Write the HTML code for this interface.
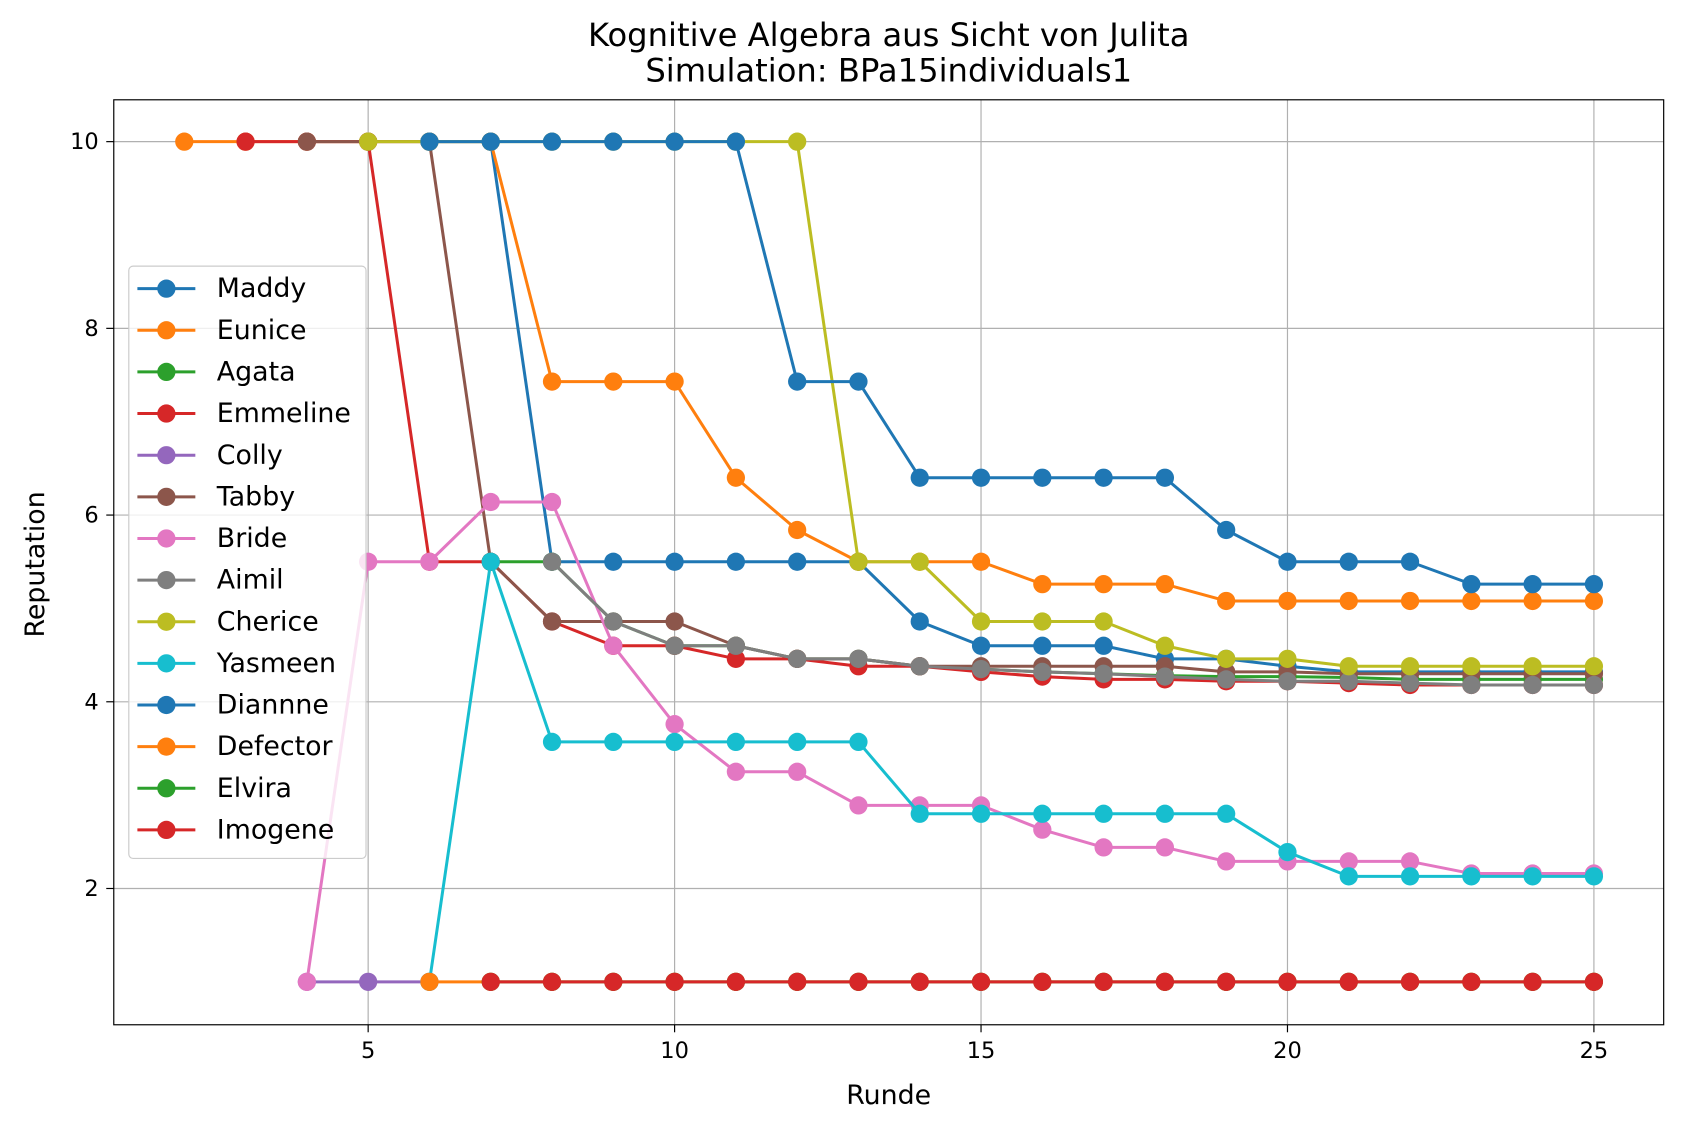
<!DOCTYPE html>
<html><head><meta charset="utf-8"><style>
body{margin:0;background:#fff}
svg text{font-family:"DejaVu Sans","Liberation Sans",sans-serif;fill:#000}
</style></head><body>
<svg id="chart" width="1683" height="1131" viewBox="0 0 1568 1054" preserveAspectRatio="none" xmlns="http://www.w3.org/2000/svg" style="display:block">
<rect width="1568" height="1054" fill="#fff"/>
<text x="828" y="43" font-size="30" text-anchor="middle">Kognitive Algebra aus Sicht von Julita</text>
<text x="828" y="76" font-size="30" text-anchor="middle">Simulation: BPa15individuals1</text>
<g id="grid"></g><g id="series"></g>
<rect x="106" y="93" width="1444" height="862" fill="none" stroke="#000" stroke-width="1.1"/>
<g id="ticks"></g>
<text x="828" y="1029" font-size="25" text-anchor="middle">Runde</text>
<text x="41" y="526" font-size="25" text-anchor="middle" transform="rotate(-90 41 526)">Reputation</text>
<g id="legend"></g>
</svg>
<script>
const names=["Maddy","Eunice","Agata","Emmeline","Colly","Tabby","Bride","Aimil","Cherice","Yasmeen","Diannne","Defector","Elvira","Imogene"];
const colors=["#1f77b4","#ff7f0e","#2ca02c","#d62728","#9467bd","#8c564b","#e377c2","#7f7f7f","#bcbd22","#17becf","#1f77b4","#ff7f0e","#2ca02c","#d62728"];
const xTicks=[5,10,15,20,25];
const yTicks=[2,4,6,8,10];
const maddyX=[6,7,8,9,10,11,12,13,14,15,16,17,18,19,20,21,22,23,24,25];
const maddyY=[10,10,5.5,5.5,5.5,5.5,5.5,5.5,4.86,4.6,4.6,4.6,4.46,4.46,4.38,4.32,4.32,4.32,4.32,4.32];
const euniceX=[2,3,4,5,6,7,8,9,10,11,12,13,14,15,16,17,18,19,20,21,22,23,24,25];
const euniceY=[10,10,10,10,10,10,7.43,7.43,7.43,6.4,5.84,5.5,5.5,5.5,5.26,5.26,5.26,5.08,5.08,5.08,5.08,5.08,5.08,5.08];
const agataX=[7,8,9,10,11,12,13,14,15,16,17,18,19,20,21,22,23,24,25];
const agataY=[5.5,5.5,4.86,4.6,4.6,4.46,4.46,4.38,4.35,4.32,4.3,4.28,4.27,4.27,4.26,4.24,4.24,4.24,4.24];
const emmelineX=[3,4,5,6,7,8,9,10,11,12,13,14,15,16,17,18,19,20,21,22,23,24,25];
const emmelineY=[10,10,10,5.5,5.5,4.86,4.6,4.6,4.46,4.46,4.38,4.38,4.32,4.27,4.24,4.24,4.22,4.22,4.2,4.18,4.18,4.18,4.18];
const collyX=[4,5,6];
const collyY=[1,1,1];
const tabbyX=[4,5,6,7,8,9,10,11,12,13,14,15,16,17,18,19,20,21,22,23,24,25];
const tabbyY=[10,10,10,5.5,4.86,4.86,4.86,4.6,4.46,4.46,4.38,4.38,4.38,4.38,4.38,4.32,4.32,4.3,4.3,4.3,4.3,4.3];
const brideX=[4,5,6,7,8,9,10,11,12,13,14,15,16,17,18,19,20,21,22,23,24,25];
const brideY=[1,5.5,5.5,6.14,6.14,4.6,3.76,3.25,3.25,2.89,2.89,2.89,2.63,2.44,2.44,2.29,2.29,2.29,2.29,2.16,2.16,2.16];
const aimilX=[8,9,10,11,12,13,14,15,16,17,18,19,20,21,22,23,24,25];
const aimilY=[5.5,4.86,4.6,4.6,4.46,4.46,4.38,4.35,4.32,4.3,4.27,4.24,4.22,4.22,4.2,4.18,4.18,4.18];
const chericeX=[5,6,7,8,9,10,11,12,13,14,15,16,17,18,19,20,21,22,23,24,25];
const chericeY=[10,10,10,10,10,10,10,10,5.5,5.5,4.86,4.86,4.86,4.6,4.46,4.46,4.38,4.38,4.38,4.38,4.38];
const yasmeenX=[6,7,8,9,10,11,12,13,14,15,16,17,18,19,20,21,22,23,24,25];
const yasmeenY=[1,5.5,3.57,3.57,3.57,3.57,3.57,3.57,2.8,2.8,2.8,2.8,2.8,2.8,2.39,2.13,2.13,2.13,2.13,2.13];
const diannneX=[6,7,8,9,10,11,12,13,14,15,16,17,18,19,20,21,22,23,24,25];
const diannneY=[10,10,10,10,10,10,7.43,7.43,6.4,6.4,6.4,6.4,6.4,5.84,5.5,5.5,5.5,5.26,5.26,5.26];
const defectorX=[6,7,8,9,10,11,12,13,14,15,16,17,18,19,20,21,22,23,24,25];
const defectorY=[1,1,1,1,1,1,1,1,1,1,1,1,1,1,1,1,1,1,1,1];
const elviraX=[7,8,9,10,11,12,13,14,15,16,17,18,19,20,21,22,23,24,25];
const elviraY=[1,1,1,1,1,1,1,1,1,1,1,1,1,1,1,1,1,1,1];
const imogeneX=[7,8,9,10,11,12,13,14,15,16,17,18,19,20,21,22,23,24,25];
const imogeneY=[1,1,1,1,1,1,1,1,1,1,1,1,1,1,1,1,1,1,1];
const allX=[maddyX,euniceX,agataX,emmelineX,collyX,tabbyX,brideX,aimilX,chericeX,yasmeenX,diannneX,defectorX,elviraX,imogeneX];
const allY=[maddyY,euniceY,agataY,emmelineY,collyY,tabbyY,brideY,aimilY,chericeY,yasmeenY,diannneY,defectorY,elviraY,imogeneY];

const NS="http://www.w3.org/2000/svg";
const xs=v=>343+(v-5)*57.1;
const ys=v=>132+(10-v)*87;
function mk(tag,attrs,parent){const e=document.createElementNS(NS,tag);for(const k in attrs)e.setAttribute(k,attrs[k]);parent.appendChild(e);return e;}
const grid=document.getElementById('grid'),ticks=document.getElementById('ticks'),ser=document.getElementById('series'),leg=document.getElementById('legend');
xTicks.forEach(t=>{
  const g=mk('line',{x1:xs(t),x2:xs(t),y1:93,y2:955,stroke:'#b0b0b0','stroke-width':1.1},grid);
  
  
  mk('line',{x1:xs(t),x2:xs(t),y1:955,y2:962,stroke:'#000','stroke-width':1.1},ticks);
  const tx=mk('text',{x:xs(t),y:986,'font-size':21,'text-anchor':'middle'},ticks);
  tx.textContent=t;
  
  
});
yTicks.forEach(t=>{
  const g=mk('line',{x1:106,x2:1550,y1:ys(t),y2:ys(t),stroke:'#b0b0b0','stroke-width':1.1},grid);
  
  
  mk('line',{x1:99,x2:106,y1:ys(t),y2:ys(t),stroke:'#000','stroke-width':1.1},ticks);
  const tx=mk('text',{x:92,y:ys(t)+7,'font-size':21,'text-anchor':'end'},ticks);
  tx.textContent=t;
  
  
});
names.forEach((n,i)=>{
  const g=mk('g',{},ser);
  
  
  const pts=allX[i].map((x,j)=>xs(x)+','+ys(allY[i][j])).join(' ');
  mk('polyline',{points:pts,fill:'none',stroke:colors[i],'stroke-width':2.8,'stroke-linejoin':'round'},g);
  allX[i].forEach((x,j)=>{
    const c=mk('circle',{cx:xs(x),cy:ys(allY[i][j]),r:8.5,fill:colors[i]},g);
    
    
  });
});
const box=mk('rect',{x:120,y:248,width:221,height:552,rx:4,fill:'#fff','fill-opacity':0.8,stroke:'#ccc','stroke-width':1.1},leg);


names.forEach((n,i)=>{
  const y=269+i*38.8;
  const g=mk('g',{},leg);
  
  
  mk('line',{x1:128,x2:182,y1:y,y2:y,stroke:colors[i],'stroke-width':2.8},g);
  mk('circle',{cx:155,cy:y,r:8.5,fill:colors[i]},g);
  const t=mk('text',{x:202,y:y+8,'font-size':25},g);
  t.textContent=n;
});
</script>
</body></html>
